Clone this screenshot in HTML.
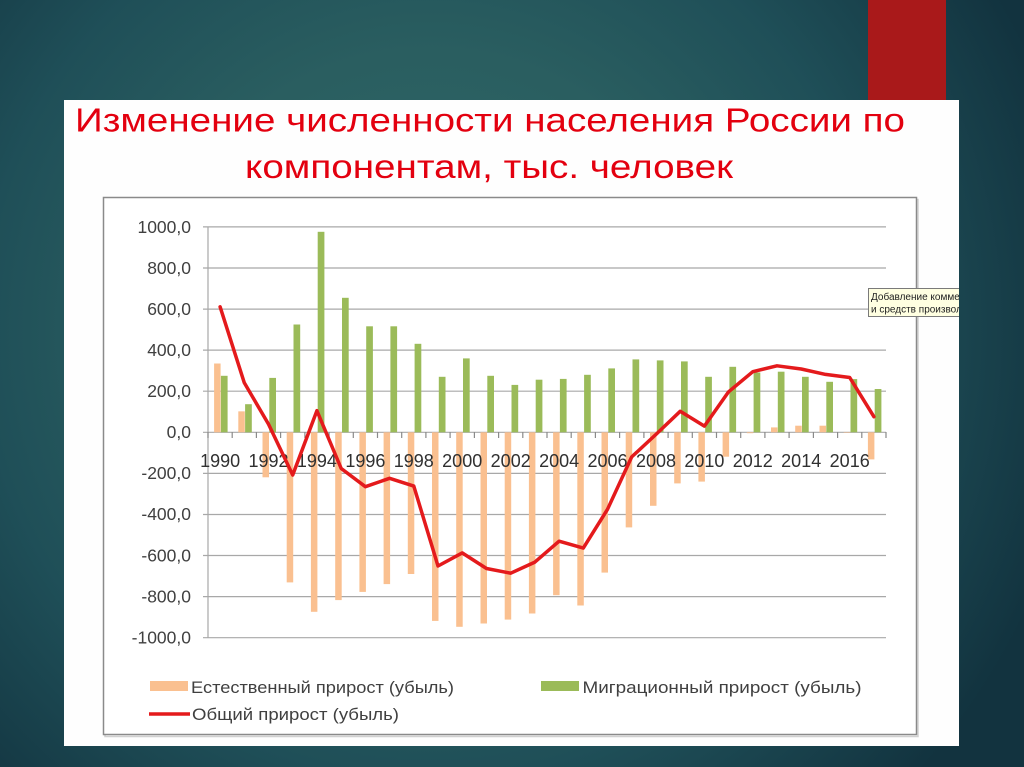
<!DOCTYPE html>
<html><head><meta charset="utf-8"><style>
html,body{margin:0;padding:0;width:1024px;height:767px;overflow:hidden;background:#18404c}
svg{display:block}
text{font-family:"Liberation Sans","Noto Sans CJK SC",sans-serif}
</style></head><body>
<svg width="1024" height="767" viewBox="0 0 1024 767" xmlns="http://www.w3.org/2000/svg">
<defs>
<radialGradient id="bg" gradientUnits="userSpaceOnUse" cx="430" cy="330" r="660">
<stop offset="0" stop-color="#306a6a"/>
<stop offset="0.42" stop-color="#2a5e60"/>
<stop offset="0.68" stop-color="#1f4f58"/>
<stop offset="1" stop-color="#12333f"/>
</radialGradient>
<clipPath id="pc"><rect x="64" y="100" width="895" height="646"/></clipPath>
</defs>
<rect x="0" y="0" width="1024" height="767" fill="url(#bg)"/>
<rect x="868" y="0" width="78" height="100" fill="#a9191a"/>
<rect x="64" y="100" width="895" height="646" fill="#fefefe"/>

<text x="75" y="131.5" font-size="33" fill="#e3000f" textLength="830" lengthAdjust="spacingAndGlyphs">Изменение численности населения России по</text>
<text x="245" y="178" font-size="33" fill="#e3000f" textLength="488" lengthAdjust="spacingAndGlyphs">компонентам, тыс. человек</text>

<!-- chart frame -->
<rect x="105" y="199.5" width="813" height="537" fill="none" stroke="#d0d0d0" stroke-width="1.5"/>
<rect x="103.5" y="197.5" width="813" height="537" fill="#fff" stroke="#8a8a8a" stroke-width="1.5"/>

<!-- gridlines -->
<g stroke="#a8a8a8" stroke-width="1.2">
<line x1="203" y1="226.9" x2="886" y2="226.9"/>
<line x1="203" y1="268" x2="886" y2="268"/>
<line x1="203" y1="309.1" x2="886" y2="309.1"/>
<line x1="203" y1="350.1" x2="886" y2="350.1"/>
<line x1="203" y1="391.2" x2="886" y2="391.2"/>
<line x1="203" y1="432.3" x2="886" y2="432.3"/>
<line x1="203" y1="473.4" x2="886" y2="473.4"/>
<line x1="203" y1="514.5" x2="886" y2="514.5"/>
<line x1="203" y1="555.5" x2="886" y2="555.5"/>
<line x1="203" y1="596.6" x2="886" y2="596.6"/>
<line x1="203" y1="637.7" x2="886" y2="637.7"/>
<line x1="208" y1="226.9" x2="208" y2="637.7"/>
</g>

<!-- y labels -->
<g font-size="17.5" fill="#404040" text-anchor="end">
<text x="191" y="233">1000,0</text>
<text x="191" y="274">800,0</text>
<text x="191" y="315">600,0</text>
<text x="191" y="356">400,0</text>
<text x="191" y="397">200,0</text>
<text x="191" y="438">0,0</text>
<text x="191" y="479">-200,0</text>
<text x="191" y="520">-400,0</text>
<text x="191" y="561.5">-600,0</text>
<text x="191" y="602.5">-800,0</text>
<text x="191" y="643.5">-1000,0</text>
</g>

<!-- natural increase bars -->
<g fill="#fac090">
<rect x="214.1" y="363.5" width="6.5" height="68.8"/>
<rect x="238.3" y="411.35" width="6.5" height="20.95"/>
<rect x="262.5" y="432.3" width="6.5" height="45"/>
<rect x="286.7" y="432.3" width="6.5" height="150.1"/>
<rect x="310.9" y="432.3" width="6.5" height="179.5"/>
<rect x="335.2" y="432.3" width="6.5" height="167.8"/>
<rect x="359.4" y="432.3" width="6.5" height="159.6"/>
<rect x="383.6" y="432.3" width="6.5" height="151.8"/>
<rect x="407.8" y="432.3" width="6.5" height="141.7"/>
<rect x="432" y="432.3" width="6.5" height="188.6"/>
<rect x="456.2" y="432.3" width="6.5" height="194.5"/>
<rect x="480.5" y="432.3" width="6.5" height="191.2"/>
<rect x="504.7" y="432.3" width="6.5" height="187.3"/>
<rect x="528.9" y="432.3" width="6.5" height="181.2"/>
<rect x="553.1" y="432.3" width="6.5" height="162.9"/>
<rect x="577.3" y="432.3" width="6.5" height="173.2"/>
<rect x="601.5" y="432.3" width="6.5" height="140.3"/>
<rect x="625.7" y="432.3" width="6.5" height="95.1"/>
<rect x="650" y="432.3" width="6.5" height="73.5"/>
<rect x="674.2" y="432.3" width="6.5" height="51.1"/>
<rect x="698.4" y="432.3" width="6.5" height="49.3"/>
<rect x="722.6" y="432.3" width="6.5" height="24.4"/>
<rect x="746.8" y="432.3" width="6.5" height="0.9"/>
<rect x="771" y="427.4" width="6.5" height="4.9"/>
<rect x="795.2" y="425.7" width="6.5" height="6.6"/>
<rect x="819.5" y="425.7" width="6.5" height="6.6"/>
<rect x="843.7" y="432.3" width="6.5" height="0.5"/>
<rect x="867.9" y="432.3" width="6.5" height="27.1"/>
</g>

<!-- migration bars -->
<g fill="#9bbb59">
<rect x="220.9" y="375.8" width="6.7" height="56.5"/>
<rect x="245.1" y="404.2" width="6.7" height="28.1"/>
<rect x="269.3" y="377.9" width="6.7" height="54.4"/>
<rect x="293.5" y="324.5" width="6.7" height="107.8"/>
<rect x="317.7" y="231.8" width="6.7" height="200.5"/>
<rect x="342" y="297.8" width="6.7" height="134.5"/>
<rect x="366.2" y="326.3" width="6.7" height="106"/>
<rect x="390.4" y="326.3" width="6.7" height="106"/>
<rect x="414.6" y="343.8" width="6.7" height="88.5"/>
<rect x="438.8" y="376.8" width="6.7" height="55.5"/>
<rect x="463" y="358.4" width="6.7" height="73.9"/>
<rect x="487.3" y="375.8" width="6.7" height="56.5"/>
<rect x="511.5" y="384.9" width="6.7" height="47.4"/>
<rect x="535.7" y="379.7" width="6.7" height="52.6"/>
<rect x="559.9" y="378.9" width="6.7" height="53.4"/>
<rect x="584.1" y="374.8" width="6.7" height="57.5"/>
<rect x="608.3" y="368.4" width="6.7" height="63.9"/>
<rect x="632.5" y="359.4" width="6.7" height="72.9"/>
<rect x="656.8" y="360.4" width="6.7" height="71.9"/>
<rect x="681" y="361.4" width="6.7" height="70.9"/>
<rect x="705.2" y="376.8" width="6.7" height="55.5"/>
<rect x="729.4" y="366.8" width="6.7" height="65.5"/>
<rect x="753.6" y="372.5" width="6.7" height="59.8"/>
<rect x="777.8" y="371.7" width="6.7" height="60.6"/>
<rect x="802" y="376.8" width="6.7" height="55.5"/>
<rect x="826.3" y="381.8" width="6.7" height="50.5"/>
<rect x="850.5" y="379.1" width="6.7" height="53.2"/>
<rect x="874.7" y="389" width="6.7" height="43.3"/>
</g>

<!-- category axis ticks -->
<path d="M208 432v6M232.2 432v6M256.4 432v6M280.6 432v6M304.9 432v6M329.1 432v6M353.3 432v6M377.5 432v6M401.7 432v6M425.9 432v6M450.1 432v6M474.4 432v6M498.6 432v6M522.8 432v6M547 432v6M571.2 432v6M595.4 432v6M619.6 432v6M643.9 432v6M668.1 432v6M692.3 432v6M716.5 432v6M740.7 432v6M764.9 432v6M789.1 432v6M813.4 432v6M837.6 432v6M861.8 432v6M886 432v6" stroke="#8a8a8a" stroke-width="1.2" fill="none"/>

<!-- year labels -->
<g font-size="18" fill="#303030" text-anchor="middle">
<text x="220.1" y="467">1990</text>
<text x="268.5" y="467">1992</text>
<text x="316.9" y="467">1994</text>
<text x="365.4" y="467">1996</text>
<text x="413.8" y="467">1998</text>
<text x="462.2" y="467">2000</text>
<text x="510.7" y="467">2002</text>
<text x="559.1" y="467">2004</text>
<text x="607.5" y="467">2006</text>
<text x="656" y="467">2008</text>
<text x="704.4" y="467">2010</text>
<text x="752.8" y="467">2012</text>
<text x="801.2" y="467">2014</text>
<text x="849.7" y="467">2016</text>
</g>

<!-- total line -->
<polyline fill="none" stroke="#e41a1c" stroke-width="3.5" stroke-linejoin="round" stroke-linecap="round"
points="220.1,306.8 244.3,382.8 268.5,424.1 292.7,475 316.9,410.7 341.2,468.5 365.4,486.7 389.6,478.3 413.8,486.1 438,566 462.2,552.9 486.5,568.5 510.7,573.2 534.9,562.1 559.1,541.2 583.3,548.1 607.5,509.3 631.7,456.9 656,434.4 680.2,411.3 704.4,426.1 728.6,391.8 752.8,371.7 777,365.8 801.2,369 825.5,374.4 849.7,377.5 873.9,416.7"/>

<!-- legend -->
<rect x="150" y="681" width="38" height="10" fill="#fac090"/>
<text x="191" y="693" font-size="16.5" fill="#404040" textLength="263" lengthAdjust="spacingAndGlyphs">Естественный прирост (убыль)</text>
<rect x="541" y="681" width="38" height="10" fill="#9bbb59"/>
<text x="582.5" y="693" font-size="16.5" fill="#404040" textLength="279" lengthAdjust="spacingAndGlyphs">Миграционный прирост (убыль)</text>
<line x1="149" y1="714" x2="190" y2="714" stroke="#e41a1c" stroke-width="3.5"/>
<text x="192" y="720" font-size="16.5" fill="#404040" textLength="207" lengthAdjust="spacingAndGlyphs">Общий прирост (убыль)</text>

<!-- tooltip -->
<g clip-path="url(#pc)">
<rect x="868.5" y="288.5" width="110" height="28" fill="#ffffe1" stroke="#7a7a7a" stroke-width="1"/>
<text x="871" y="300" font-size="10" fill="#222">Добавление комментариев</text>
<text x="871" y="312.5" font-size="10" fill="#222">и средств произвольного</text>
</g>
</svg>
</body></html>
